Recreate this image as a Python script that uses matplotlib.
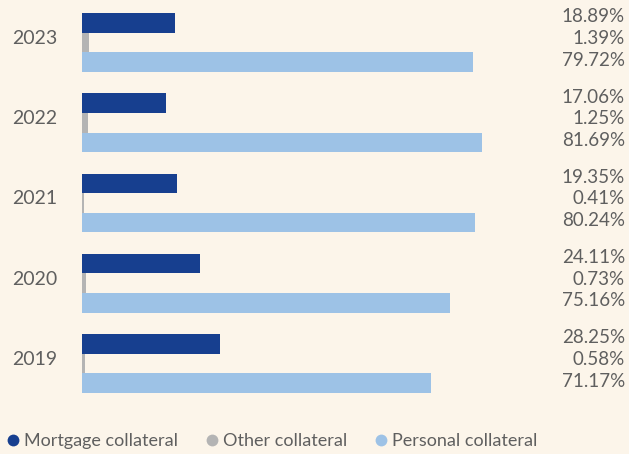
import numpy as np
import matplotlib.pyplot as plt
import matplotlib.transforms as mtransforms
from matplotlib.lines import Line2D

plt.rcParams['font.family'] = ['Lato', 'DejaVu Sans']

years = ['2019', '2020', '2021', '2022', '2023']
mortgage = [28.25, 24.11, 19.35, 17.06, 18.89]
other = [0.58, 0.73, 0.41, 1.25, 1.39]
personal = [71.17, 75.16, 80.24, 81.69, 79.72]

series_names = ['Mortgage collateral', 'Other collateral', 'Personal collateral']
colors = ['#173f8f', '#b4b4b4', '#9dc2e6']
bg = '#fcf5ea'
txt = '#5f5f5f'

fig = plt.figure(figsize=(6.29, 4.54), dpi=100, facecolor=bg)
ax = fig.add_axes([82 / 629, 54 / 454, 490 / 629, 400 / 454])
ax.set_facecolor(bg)

y = np.arange(len(years))
h = 0.245
offsets = [h, 0, -h]
for vals, off, c in zip([mortgage, other, personal], offsets, colors):
    ax.barh(y + off, vals, height=h, color=c, edgecolor='none')

ax.set_xlim(0, 100)
ax.set_ylim(-0.455, 4.53)
ax.set_yticks(y)
ax.set_yticklabels(years, fontsize=14, color=txt)
ax.tick_params(axis='y', length=0, pad=18)
# nudge year labels up a little
shift = mtransforms.ScaledTranslation(0, 4 / 72, fig.dpi_scale_trans)
for lab in ax.get_yticklabels():
    lab.set_transform(lab.get_transform() + shift)
ax.set_xticks([])
for s in ax.spines.values():
    s.set_visible(False)

# percentage labels in a column at the right edge
trans = mtransforms.blended_transform_factory(fig.transFigure, ax.transData)
label_pos = [0.32, 0.05, -0.22]
for i in range(len(years)):
    for vals, dy in zip([mortgage, other, personal], label_pos):
        ax.text(625 / 629, y[i] + dy, f'{vals[i]:.2f}%', transform=trans,
                ha='right', va='center', fontsize=13.5, color=txt)

handles = [Line2D([], [], marker='o', linestyle='none', markersize=8.5,
                  markerfacecolor=c, markeredgecolor='none') for c in colors]
fig.legend(handles, series_names, loc='center left',
           bbox_to_anchor=(-0.02, 1 - 441 / 454), ncol=3, frameon=False,
           fontsize=13, labelcolor=txt, handletextpad=0.1,
           columnspacing=1.4, handlelength=1.0)

fig.savefig('out.png', dpi=100, facecolor=bg)
